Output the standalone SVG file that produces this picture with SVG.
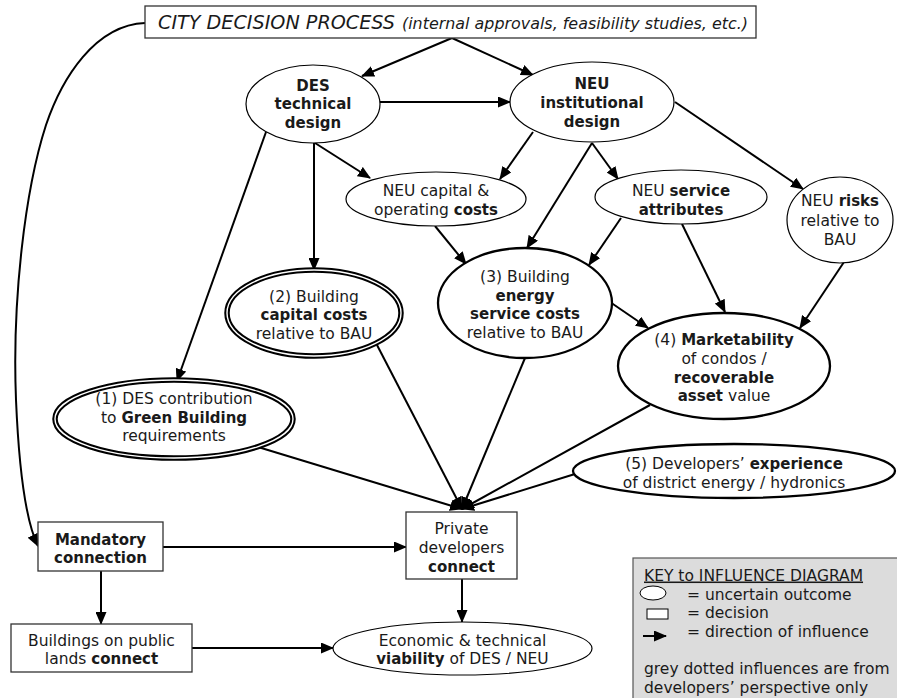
<svg xmlns="http://www.w3.org/2000/svg" width="897" height="698" viewBox="0 0 897 698">
  <defs>
    <marker id="ah" markerUnits="userSpaceOnUse" markerWidth="13" markerHeight="11" refX="12" refY="5.5" orient="auto">
      <path d="M0,0 L13,5.5 L0,11 z" fill="#000"/>
    </marker>
    <style>
      .t { font-family: "DejaVu Sans", Verdana, sans-serif; font-size: 15.5px; fill: #1a1a1a; text-anchor: middle; }
      .b { font-weight: bold; font-size: 15px; }
      .e { fill: #fff; stroke: #000; stroke-width: 1.2; }
      .ek { fill: #fff; stroke: #000; stroke-width: 2.3; }
      .dbl-out { fill: #fff; stroke: #000; stroke-width: 5.5; }
      .dbl-in { fill: none; stroke: #fff; stroke-width: 1.4; }
      .box { fill: #fff; stroke: #333; stroke-width: 1.3; }
      .c { fill: none; stroke: #000; stroke-width: 2; marker-end: url(#ah); }
    </style>
  </defs>

  <rect width="897" height="698" fill="#fff"/>

  <!-- connectors -->
  <g id="connectors">
    <path class="c" d="M452,38 L362,76"/>
    <path class="c" d="M452,38 L533,75"/>
    <path class="c" d="M145,23 C95,25 62,78 46,125 C25,190 12,300 16,400 C19,470 25,520 38,546"/>
    <path class="c" d="M380,102 L510,102"/>
    <path class="c" d="M314,143 L314,270"/>
    <path class="c" d="M315,143 L370,178"/>
    <path class="c" d="M266,132 L177,381"/>
    <path class="c" d="M533,132 L500,179"/>
    <path class="c" d="M592,143 L618,179"/>
    <path class="c" d="M592,143 L527,248"/>
    <path class="c" d="M675,102 L803,189"/>
    <path class="c" d="M435,226 L466,264"/>
    <path class="c" d="M621,218 L589,265"/>
    <path class="c" d="M682,224 L725,312"/>
    <path class="c" d="M844,262 L800,328"/>
    <path class="c" d="M610,302 L648,328"/>
    <path class="c" d="M258,447 L462,509"/>
    <path class="c" d="M377,345 L462,509"/>
    <path class="c" d="M525,358 L462,509"/>
    <path class="c" d="M650,405 L462,509"/>
    <path class="c" d="M575,474 L462,509"/>
    <path class="c" d="M163,547 L406,547"/>
    <path class="c" d="M101,571 L101,624"/>
    <path class="c" d="M462,579 L462,622"/>
    <path class="c" d="M192,648 L333,648"/>
  </g>

  <!-- city decision process -->
  <g id="city">
    <rect class="box" x="145" y="6" width="611" height="32"/>
    <text class="t" x="158" y="29" style="text-anchor:start;font-style:italic;font-size:19px" textLength="237" lengthAdjust="spacingAndGlyphs">CITY DECISION PROCESS</text>
    <text class="t" x="402" y="29" style="text-anchor:start;font-style:italic;font-size:15.5px" textLength="346" lengthAdjust="spacingAndGlyphs">(internal approvals, feasibility studies, etc.)</text>
  </g>

  <g id="des-design">
    <ellipse class="e" cx="313" cy="104" rx="67" ry="39"/>
    <text class="t b" x="313" y="90.5">DES</text>
    <text class="t b" x="313" y="109">technical</text>
    <text class="t b" x="313" y="127.5">design</text>
  </g>

  <g id="neu-design">
    <ellipse class="e" cx="592" cy="102" rx="82" ry="40"/>
    <text class="t b" x="592" y="88.5">NEU</text>
    <text class="t b" x="592" y="107.5">institutional</text>
    <text class="t b" x="592" y="126.5">design</text>
  </g>

  <g id="neu-costs">
    <ellipse class="e" cx="436" cy="199" rx="90" ry="27"/>
    <text class="t" x="436" y="195.5">NEU capital &amp;</text>
    <text class="t" x="436" y="214.5">operating <tspan class="b">costs</tspan></text>
  </g>

  <g id="neu-service">
    <ellipse class="e" cx="681" cy="197" rx="86" ry="27"/>
    <text class="t" x="681" y="195.5">NEU <tspan class="b">service</tspan></text>
    <text class="t b" x="681" y="214.5">attributes</text>
  </g>

  <g id="neu-risks">
    <ellipse class="e" cx="840" cy="220" rx="53" ry="43"/>
    <text class="t" x="840" y="205.5">NEU <tspan class="b">risks</tspan></text>
    <text class="t" x="840" y="225.5">relative to</text>
    <text class="t" x="840" y="244.5">BAU</text>
  </g>

  <g id="capital-costs">
    <ellipse class="dbl-out" cx="314" cy="313" rx="87" ry="43"/>
    <ellipse class="dbl-in" cx="314" cy="313" rx="87" ry="43"/>
    <text class="t" x="314" y="301.5">(2) Building</text>
    <text class="t b" x="314" y="319.5">capital costs</text>
    <text class="t" x="314" y="338.5">relative to BAU</text>
  </g>

  <g id="energy-costs">
    <ellipse class="ek" cx="525" cy="303" rx="87" ry="55"/>
    <text class="t" x="525" y="281.5">(3) Building</text>
    <text class="t b" x="525" y="300.5">energy</text>
    <text class="t b" x="525" y="318.5">service costs</text>
    <text class="t" x="525" y="337.5">relative to BAU</text>
  </g>

  <g id="green-building">
    <ellipse class="dbl-out" cx="174" cy="419" rx="119" ry="39"/>
    <ellipse class="dbl-in" cx="174" cy="419" rx="119" ry="39"/>
    <text class="t" x="174" y="403.5">(1) DES contribution</text>
    <text class="t" x="174" y="422.5">to <tspan class="b">Green Building</tspan></text>
    <text class="t" x="174" y="440.5">requirements</text>
  </g>

  <g id="marketability">
    <ellipse class="ek" cx="724" cy="366" rx="106" ry="53"/>
    <text class="t" x="724" y="344.5">(4) <tspan class="b">Marketability</tspan></text>
    <text class="t" x="724" y="363.5">of condos /</text>
    <text class="t b" x="724" y="382.5">recoverable</text>
    <text class="t" x="724" y="400.5"><tspan class="b">asset</tspan> value</text>
  </g>

  <g id="experience">
    <ellipse class="ek" cx="734" cy="471" rx="161" ry="27"/>
    <text class="t" x="734" y="468.5">(5) Developers’ <tspan class="b">experience</tspan></text>
    <text class="t" x="734" y="487.5">of district energy / hydronics</text>
  </g>

  <g id="private-connect">
    <rect class="box" x="406" y="512" width="111" height="67"/>
    <text class="t" x="461.5" y="533.5">Private</text>
    <text class="t" x="461.5" y="552.5">developers</text>
    <text class="t b" x="461.5" y="571.5">connect</text>
  </g>

  <g id="mandatory">
    <rect class="box" x="38" y="522" width="125" height="49"/>
    <text class="t b" x="100.5" y="544.5">Mandatory</text>
    <text class="t b" x="100.5" y="562.5">connection</text>
  </g>

  <g id="public-lands">
    <rect class="box" x="11" y="624" width="181" height="48"/>
    <text class="t" x="101.5" y="645.5">Buildings on public</text>
    <text class="t" x="101.5" y="663.5">lands <tspan class="b">connect</tspan></text>
  </g>

  <g id="viability">
    <ellipse class="e" cx="462.5" cy="648.5" rx="129.5" ry="26.5"/>
    <text class="t" x="462.5" y="645.5">Economic &amp; technical</text>
    <text class="t" x="462.5" y="663.5"><tspan class="b">viability</tspan> of DES / NEU</text>
  </g>

  <!-- legend -->
  <g id="key">
    <rect x="633" y="558" width="270" height="150" fill="#dcdcdc" stroke="#555" stroke-width="1.2"/>
    <text class="t" x="644" y="580.5" style="text-anchor:start;text-decoration:underline">KEY to INFLUENCE DIAGRAM</text>
    <ellipse cx="653" cy="593" rx="13" ry="7" fill="#fff" stroke="#000" stroke-width="1"/>
    <rect x="647" y="609" width="21" height="10" fill="#fff" stroke="#000" stroke-width="1"/>
    <path class="c" d="M643,636 L666,636"/>
    <text class="t" x="687" y="599.5" style="text-anchor:start">= uncertain outcome</text>
    <text class="t" x="687" y="618" style="text-anchor:start">= decision</text>
    <text class="t" x="687" y="636.5" style="text-anchor:start">= direction of influence</text>
    <text class="t" x="644" y="673.5" style="text-anchor:start">grey dotted influences are from</text>
    <text class="t" x="644" y="692.5" style="text-anchor:start">developers’ perspective only</text>
  </g>
</svg>
